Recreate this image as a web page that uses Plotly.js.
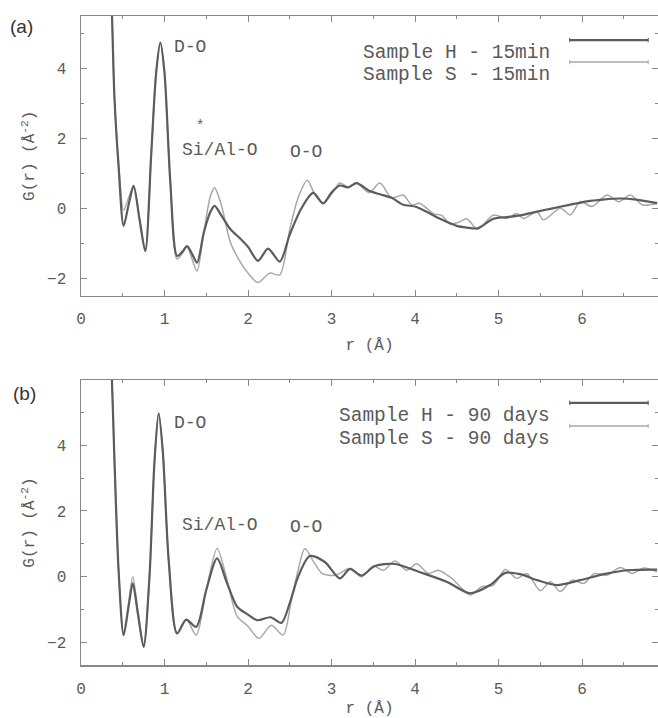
<!DOCTYPE html>
<html><head><meta charset="utf-8">
<script src="https://cdn.plot.ly/plotly-3.0.1.min.js"></script>
<style>html,body{margin:0;padding:0;background:#fff}#chart{width:658px;height:718px}</style>
</head><body><div id="chart"></div>
<script>
// Panel (a): 15 min
const rTopH = [0.33,0.37,0.40,0.45,0.51,0.57,0.63,0.70,0.77,0.84,0.90,0.95,1.00,1.07,1.15,1.21,1.27,1.33,1.39,1.47,1.55,1.60,1.68,1.79,1.90,2.00,2.12,2.24,2.38,2.50,2.64,2.78,2.90,3.00,3.10,3.20,3.30,3.45,3.58,3.72,3.86,4.00,4.14,4.30,4.50,4.62,4.75,4.94,5.10,5.26,5.45,5.65,5.85,6.06,6.25,6.46,6.65,6.90];
const gTopH = [8.0,5.6,3.2,1.2,-0.50,0.10,0.64,-0.30,-1.22,1.50,3.87,4.73,3.87,0.73,-1.36,-1.25,-1.08,-1.30,-1.55,-0.70,-0.10,0.07,-0.20,-0.60,-0.85,-1.10,-1.50,-1.15,-1.52,-0.75,0.00,0.44,0.14,0.45,0.65,0.60,0.72,0.50,0.40,0.30,0.10,0.05,-0.10,-0.30,-0.50,-0.55,-0.57,-0.30,-0.25,-0.20,-0.10,0.00,0.10,0.20,0.25,0.28,0.25,0.15];
const rTopS = [0.33,0.37,0.40,0.45,0.51,0.57,0.63,0.70,0.77,0.84,0.90,0.95,1.00,1.07,1.15,1.21,1.27,1.33,1.39,1.47,1.55,1.60,1.68,1.79,1.90,2.00,2.12,2.26,2.38,2.50,2.60,2.71,2.80,2.90,3.00,3.10,3.20,3.30,3.45,3.58,3.72,3.86,3.96,4.06,4.22,4.32,4.42,4.52,4.62,4.75,4.94,5.10,5.22,5.30,5.46,5.54,5.74,5.86,5.98,6.12,6.30,6.44,6.58,6.72,6.90];
const gTopS = [8.0,5.6,3.2,1.3,-0.05,0.30,0.64,-0.30,-1.22,1.50,3.87,4.73,3.87,0.73,-1.45,-1.30,-1.10,-1.45,-1.79,-0.70,0.35,0.59,0.10,-0.98,-1.50,-1.85,-2.12,-1.85,-1.90,-0.60,0.30,0.80,0.40,0.15,0.40,0.72,0.60,0.72,0.45,0.72,0.30,0.38,0.10,0.14,-0.15,-0.20,-0.45,-0.40,-0.30,-0.60,-0.19,-0.29,-0.15,-0.29,-0.10,-0.33,0.00,-0.19,0.19,0.05,0.38,0.19,0.38,0.10,0.14];
// Panel (b): 90 days
const rBotH = [0.33,0.37,0.40,0.45,0.51,0.57,0.62,0.68,0.75,0.82,0.88,0.93,0.98,1.05,1.15,1.26,1.38,1.50,1.63,1.75,1.87,2.00,2.11,2.27,2.40,2.50,2.60,2.74,2.92,3.10,3.22,3.36,3.52,3.76,4.06,4.38,4.66,4.90,5.08,5.26,5.46,5.70,5.98,6.26,6.54,6.90];
const gBotH = [8.2,6.0,3.6,0.2,-1.77,-0.90,-0.20,-1.10,-2.13,0.00,3.50,4.97,3.80,0.50,-1.72,-1.30,-1.52,-0.40,0.56,-0.20,-0.91,-1.15,-1.32,-1.23,-1.40,-0.80,0.00,0.63,0.45,-0.05,0.24,0.04,0.33,0.39,0.14,-0.15,-0.50,-0.25,0.12,0.08,-0.10,-0.25,-0.10,0.08,0.20,0.22];
const rBotS = [0.33,0.37,0.40,0.45,0.51,0.57,0.62,0.68,0.75,0.82,0.88,0.93,0.98,1.05,1.15,1.26,1.38,1.50,1.63,1.75,1.87,2.00,2.13,2.28,2.42,2.52,2.60,2.68,2.80,2.89,3.05,3.22,3.36,3.50,3.62,3.76,3.90,4.02,4.16,4.28,4.44,4.54,4.66,4.80,4.94,5.08,5.22,5.34,5.50,5.62,5.74,5.88,6.02,6.15,6.30,6.46,6.60,6.74,6.90];
const gBotS = [8.2,6.0,3.6,0.2,-1.77,-0.80,0.00,-1.00,-2.13,0.00,3.50,4.97,3.80,0.50,-1.72,-1.30,-1.77,-0.40,0.86,-0.10,-1.20,-1.50,-1.87,-1.47,-1.77,-0.70,0.20,0.85,0.40,0.10,0.05,0.25,0.00,0.33,0.20,0.48,0.20,0.40,0.10,0.20,-0.05,-0.30,-0.55,-0.30,-0.25,0.22,-0.05,0.10,-0.42,-0.15,-0.45,-0.10,-0.20,0.10,0.05,0.28,0.10,0.27,0.15];

const legTop = ['Sample H - 15min', 'Sample S - 15min'];
const legBot = ['Sample H - 90 days', 'Sample S - 90 days'];

const FONT = 'Liberation Mono, DejaVu Sans Mono, monospace';
const TXT = '#5a5a5a';
const DARK = '#5c5c5c', LIGHT = '#a8a8a8';

function tr(x, y, color, w, xa, ya) {
  return {x: x, y: y, type: 'scatter', mode: 'lines', xaxis: xa, yaxis: ya,
    line: {color: color, width: w, shape: 'spline', smoothing: 0.8}, showlegend: false, hoverinfo: 'skip'};
}
const data = [
  tr(rTopS, gTopS, LIGHT, 1.5, 'x2', 'y2'),
  tr(rTopH, gTopH, DARK, 2.2, 'x2', 'y2'),
  tr(rBotS, gBotS, LIGHT, 1.5, 'x', 'y'),
  tr(rBotH, gBotH, DARK, 2.2, 'x', 'y')
];

function xax(anchor) {
  return {anchor: anchor, range: [0, 6.91], dtick: 1, tick0: 0, ticks: 'inside', ticklen: 6, tickcolor: '#888',
    showline: true, linecolor: '#888', linewidth: 1.5, mirror: 'ticks', showgrid: false, zeroline: false,
    minor: {dtick: 0.5, ticks: 'inside', ticklen: 3, tickcolor: '#888'},
    ticklabelstandoff: 8, tickfont: {family: FONT, size: 16, color: TXT},
    title: {text: 'r (Å)', font: {family: FONT, size: 16, color: TXT}, standoff: 10}};
}
function yax(anchor, dom, rng) {
  return {anchor: anchor, domain: dom, range: rng, dtick: 2, tick0: 0, ticks: 'inside', ticklen: 6, tickcolor: '#888',
    showline: true, linecolor: '#888', linewidth: 1.5, mirror: 'ticks', showgrid: false, zeroline: false,
    minor: {dtick: 1, ticks: 'inside', ticklen: 3, tickcolor: '#888'},
    ticklabelstandoff: 10, tickfont: {family: FONT, size: 16, color: TXT},
    title: {text: 'G(r) (Å<sup>-2</sup>)', font: {family: FONT, size: 16, color: TXT}, standoff: 8}};
}

const ann = [];
function A(text, x, y, xref, yref, opts) {
  ann.push(Object.assign({text: text, x: x, y: y, xref: xref, yref: yref, showarrow: false,
    font: {family: FONT, size: 18, color: TXT}}, opts || {}));
}
const PANEL = {family: 'Liberation Sans, Arial, sans-serif', size: 19, color: '#333'};
// Panel (a)
A('D-O', 1.09, 4.6, 'x2', 'y2', {xanchor: 'left'});
A('*', 1.43, 2.35, 'x2', 'y2', {font: {family: FONT, size: 14, color: TXT}});
A('Si/Al-O', 1.67, 1.66, 'x2', 'y2');
A('O-O', 2.69, 1.6, 'x2', 'y2');
A(legTop[0], 0.816, 0.914, 'x2 domain', 'y2 domain', {xanchor: 'right', font: {family: FONT, size: 19.5, color: TXT}});
A(legTop[1], 0.816, 0.835, 'x2 domain', 'y2 domain', {xanchor: 'right', font: {family: FONT, size: 19.5, color: TXT}});
A('(a)', -0.126, 0.962, 'x2 domain', 'y2 domain', {xanchor: 'left', yanchor: 'middle', font: PANEL});
// Panel (b)
A('D-O', 1.09, 4.67, 'x', 'y', {xanchor: 'left'});
A('Si/Al-O', 1.67, 1.57, 'x', 'y');
A('O-O', 2.69, 1.5, 'x', 'y');
A(legBot[0], 0.816, 0.920, 'x domain', 'y domain', {xanchor: 'right', font: {family: FONT, size: 19.5, color: TXT}});
A(legBot[1], 0.816, 0.839, 'x domain', 'y domain', {xanchor: 'right', font: {family: FONT, size: 19.5, color: TXT}});
A('(b)', -0.122, 0.954, 'x domain', 'y domain', {xanchor: 'left', yanchor: 'middle', font: PANEL});

function legLine(xr, yr, y, color, w) {
  return [
    {type: 'line', xref: xr, yref: yr, x0: 0.847, x1: 0.983, y0: y, y1: y, line: {color: color, width: w}},
    {type: 'line', xref: xr, yref: yr, x0: 0.847, x1: 0.847, y0: y - 0.008, y1: y + 0.008, line: {color: color, width: 1}},
    {type: 'line', xref: xr, yref: yr, x0: 0.983, x1: 0.983, y0: y - 0.008, y1: y + 0.008, line: {color: color, width: 1}}
  ];
}
const shapes = [].concat(
  legLine('x2 domain', 'y2 domain', 0.914, DARK, 2.2),
  legLine('x2 domain', 'y2 domain', 0.835, LIGHT, 1.5),
  legLine('x domain', 'y domain', 0.920, DARK, 2.2),
  legLine('x domain', 'y domain', 0.839, LIGHT, 1.5)
);

const layout = {
  width: 658, height: 718,
  margin: {l: 81, r: 0, t: 16, b: 53},
  paper_bgcolor: '#fff', plot_bgcolor: '#fff',
  showlegend: false,
  xaxis: xax('y'),
  yaxis: yax('x', [0, 0.4391], [-2.68, 5.98]),
  xaxis2: xax('y2'),
  yaxis2: yax('x2', [0.5693, 1], [-2.49, 5.49]),
  annotations: ann,
  shapes: shapes
};
Plotly.newPlot('chart', data, layout, {displayModeBar: false, staticPlot: true});
</script>
</body></html>
